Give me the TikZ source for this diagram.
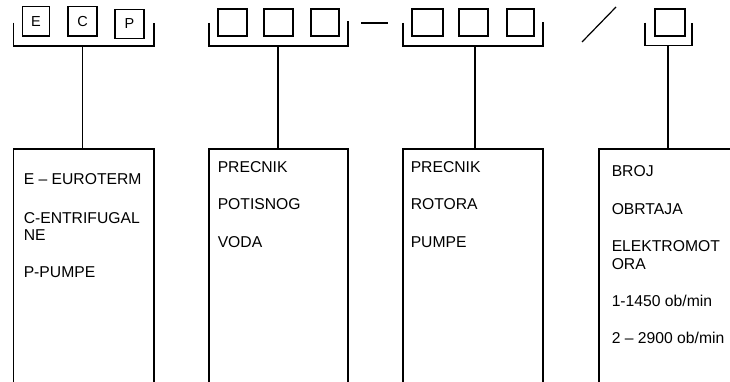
\documentclass[tikz,border=0pt]{standalone}
\usepackage{fontspec}
\setmainfont{Liberation Sans}
\begin{document}
\begin{tikzpicture}[x=1pt,y=-1pt,line width=1.5pt,
  cell/.style={draw,inner sep=0pt,outer sep=0pt,anchor=north west,font=\fontsize{14.5}{15}\selectfont},
  mainbox/.style={draw,inner sep=0pt,outer sep=0pt,anchor=north west,minimum height=260pt},
  txt/.style={anchor=base west,inner sep=0pt,font=\fontsize{15.7}{17}\selectfont},
  bracket/.style={line cap=butt}]
\useasboundingbox (0,0) rectangle (730,382);
\clip (0,0) rectangle (730,382);
\fill[white] (0,0) rectangle (730,382);
% group 1
\node[cell,minimum width=26.6pt,minimum height=29.3pt] (e) at (22.7,6.7) {E};
\node[cell,minimum width=29pt,minimum height=29.3pt] (c) at (68,6.7) {C};
\node[cell,minimum width=29pt,minimum height=29pt] (p) at (115,9.3) {P};
\draw[bracket] (13.3,22.7) -- (13.3,46) -- (154,46) -- (154,22.7);
\coordinate (s1) at (82.7,46);
\node[mainbox,minimum width=140.7pt] (b1) at (13.3,149) {};
\draw (s1) -- (s1 |- b1.north);
% group 2
\node[cell,minimum width=29pt,minimum height=27pt] (g2a) at (218,9) {};
\node[cell,minimum width=29pt,minimum height=27pt] (g2b) at (264,9) {};
\node[cell,minimum width=28pt,minimum height=27pt] (g2c) at (311,9) {};
\draw[bracket] (209,23) -- (209,46) -- (348,46) -- (348,21);
\coordinate (s2) at (278,46);
\node[mainbox,minimum width=139pt] (b2) at (209,149) {};
\draw (s2) -- (s2 |- b2.north);
% dash
\coordinate (d1) at (361,23);
\coordinate (d2) at (388,23);
\draw (d1) -- (d2);
% group 3
\node[cell,minimum width=31pt,minimum height=27pt] (g3a) at (412,9) {};
\node[cell,minimum width=29pt,minimum height=27pt] (g3b) at (459,9) {};
\node[cell,minimum width=27pt,minimum height=27pt] (g3c) at (507,9) {};
\draw[bracket] (403,23) -- (403,46) -- (543,46) -- (543,22);
\coordinate (s3) at (475,46);
\node[mainbox,minimum width=140pt] (b3) at (403,149) {};
\draw (s3) -- (s3 |- b3.north);
% slash
\coordinate (sl1) at (582,42);
\coordinate (sl2) at (616,7);
\draw[line width=1.2pt] (sl1) -- (sl2);
% group 4
\node[cell,minimum width=30pt,minimum height=27pt] (g4a) at (655,9) {};
\draw[bracket] (645,22.7) -- (645,45.5) -- (692,45.5) -- (692,22.7);
\coordinate (s4) at (668,45.5);
\node[mainbox,minimum width=150pt] (b4) at (599,149) {};
\draw (s4) -- (s4 |- b4.north);
% texts box 1
\node[txt] (t11) at (23,185) {E – EUROTERM};
\node[txt] (t12) at (23,223) {C-ENTRIFUGAL};
\node[txt] (t13) at (23,240) {NE};
\node[txt] (t14) at (23,277) {P-PUMPE};
% texts box 2
\node[txt] (t21) at (217,173) {PRECNIK};
\node[txt] (t22) at (217,209.5) {POTISNOG};
\node[txt] (t23) at (217,247) {VODA};
% texts box 3
\node[txt] (t31) at (410,173) {PRECNIK};
\node[txt] (t32) at (410,209.5) {ROTORA};
\node[txt] (t33) at (410,247) {PUMPE};
% texts box 4
\node[txt] (t41) at (611,177) {BROJ};
\node[txt] (t42) at (611,214) {OBRTAJA};
\node[txt] (t43) at (611,251) {ELEKTROMOT};
\node[txt] (t44) at (611,269) {ORA};
\node[txt] (t45) at (611,306) {1-1450 ob/min};
\node[txt] (t46) at (611,343) {2 – 2900 ob/min};
\end{tikzpicture}
\end{document}
